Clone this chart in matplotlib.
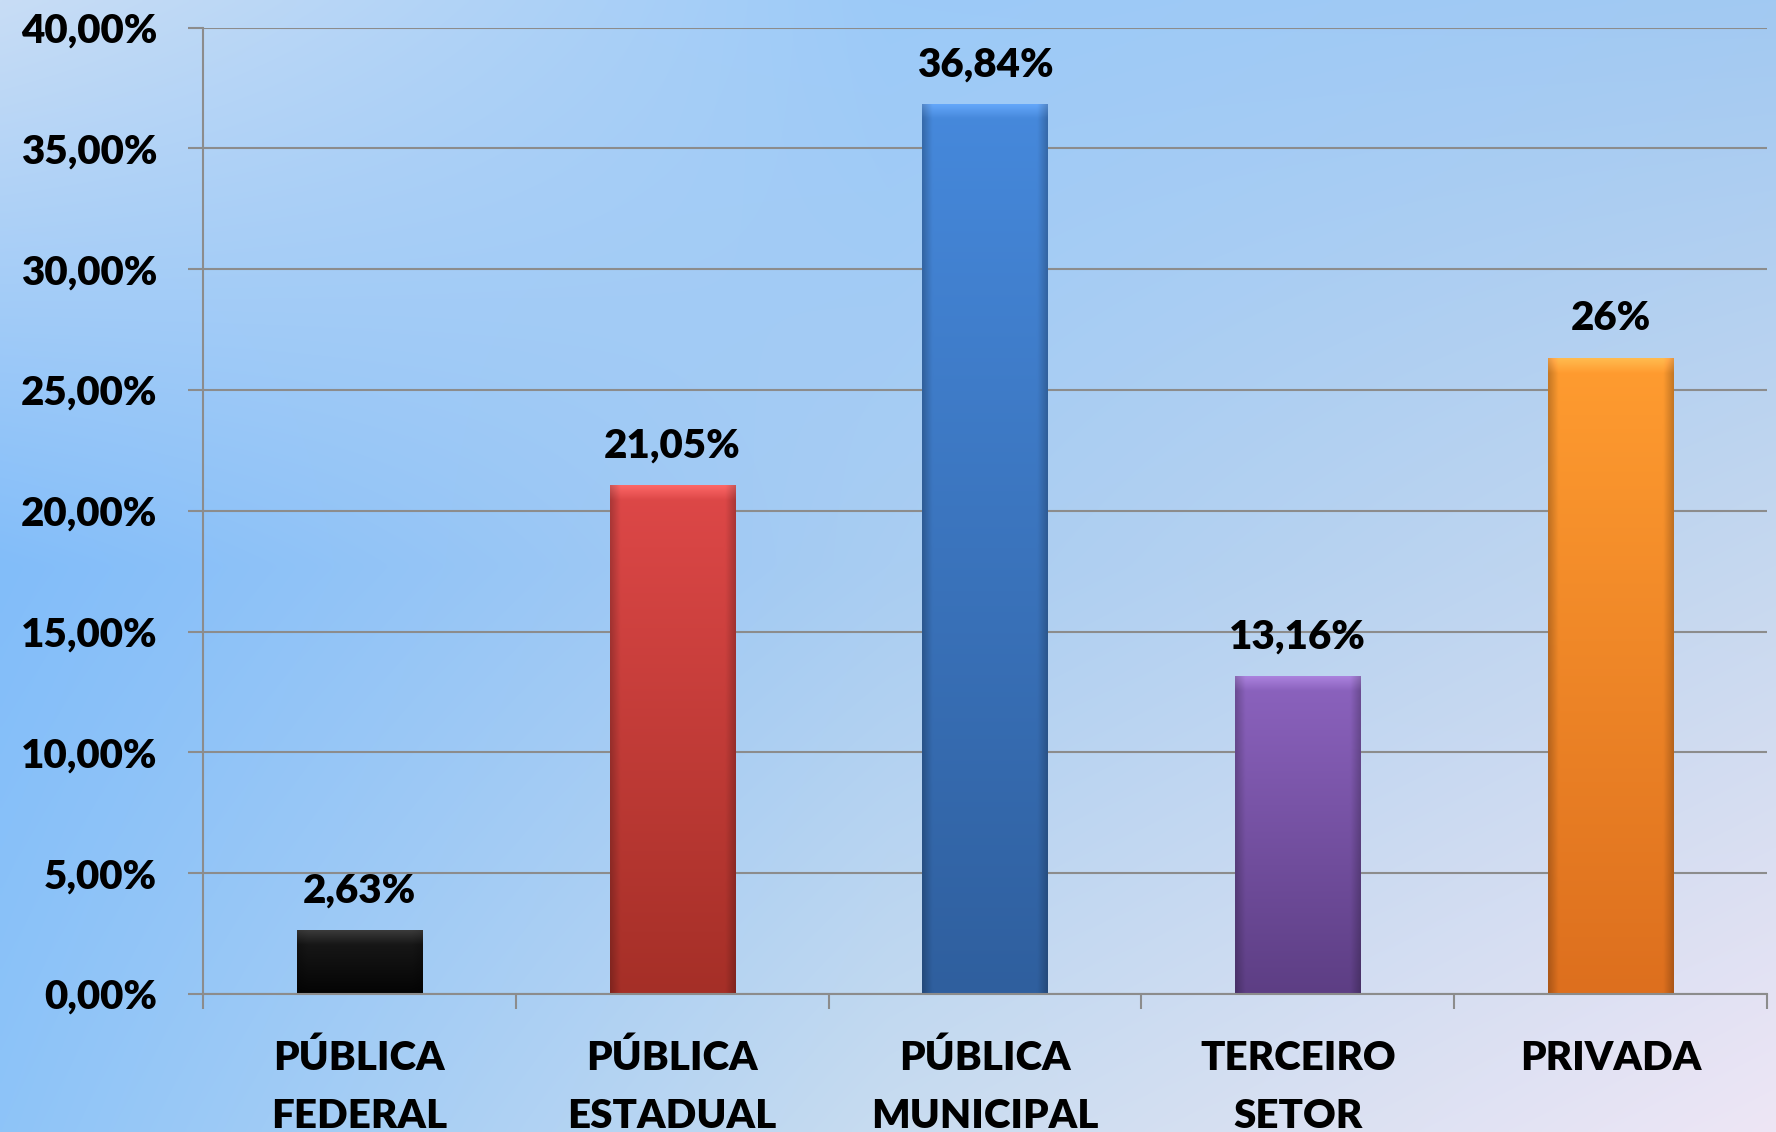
import matplotlib
matplotlib.use("Agg")
import matplotlib.pyplot as plt
import matplotlib.colors as mcolors
import numpy as np

# ── Data ──────────────────────────────────────────────────────────────────────
categories = ["PÚBLICA\nFEDERAL", "PÚBLICA\nESTADUAL", "PÚBLICA\nMUNICIPAL", "TERCEIRO\nSETOR", "PRIVADA"]
values = [2.63, 21.05, 36.84, 13.16, 26.32]
value_labels = ["2,63%", "21,05%", "36,84%", "13,16%", "26%"]
y_ticks = [0, 5, 10, 15, 20, 25, 30, 35, 40]

# ── Style ─────────────────────────────────────────────────────────────────────
BAR_TOP = ["#1c1c1c", "#de4848", "#4689dc", "#8c63bf", "#ff9c30"]
BAR_BOT = ["#040404", "#a52f27", "#2f5f9e", "#5d3e84", "#dd6f1e"]
GRID = "#8c8c8c"
FONT = "Lato"
FS = 29
WEIGHT = "heavy"

# background gradient grid (top row -> bottom row, left -> right)
BG_GRID = [
    ["#c8ddf5", "#9ccaf8", "#a2c9f2"],
    ["#82bdfa", "#a9cdf2", "#c6d8ef"],
    ["#8ec4f8", "#c8dcf0", "#eee6f5"],
]

fig = plt.figure(figsize=(17.76, 11.32), dpi=100)

# background
bg_ax = fig.add_axes([0, 0, 1, 1], zorder=-5)
grid = np.array([[mcolors.to_rgb(c) for c in row] for row in BG_GRID])
H, W = 300, 470
yy = np.linspace(0, 2, H)[:, None]
xx = np.linspace(0, 2, W)[None, :]
y0 = np.broadcast_to(np.clip(np.floor(yy).astype(int), 0, 1), (H, W))
x0 = np.broadcast_to(np.clip(np.floor(xx).astype(int), 0, 1), (H, W))
fy = (yy - y0)[..., None]
fx = (xx - x0)[..., None]
img = ((grid[y0, x0] * (1 - fx) + grid[y0, x0 + 1] * fx) * (1 - fy)
       + (grid[y0 + 1, x0] * (1 - fx) + grid[y0 + 1, x0 + 1] * fx) * fy)
bg_ax.imshow(img, aspect="auto", extent=[0, 1, 0, 1], interpolation="bilinear")
bg_ax.axis("off")

ax = fig.add_axes([0.1143, 0.1219, 0.9949 - 0.1143, 0.9757 - 0.1219])
ax.set_facecolor("none")

x = np.arange(len(values))
width = 0.40
bars = ax.bar(x, values, width=width, color=BAR_BOT, zorder=3, linewidth=0)

# bevelled gradient fill on each bar
for i, b in enumerate(bars):
    top = np.array(mcolors.to_rgb(BAR_TOP[i]))
    bot = np.array(mcolors.to_rgb(BAR_BOT[i]))
    n_rows = 400
    v = np.linspace(0, 1, n_rows)[:, None, None]
    u = np.linspace(0, 1, 80)[None, :, None]
    col = top * (1 - v) + bot * v
    edge = np.clip(1 - np.minimum(u, 1 - u) / 0.08, 0, 1)
    col = np.broadcast_to(col * (1 - 0.22 * edge), (n_rows, 80, 3)).copy()
    # soft light bevel along the top edge
    bevel_frac = 0.6 / max(values[i], 0.6)
    depth = np.linspace(0, 1, n_rows)[:, None, None] / bevel_frac
    glow = np.clip(1 - depth, 0, 1) * 0.12
    col = np.clip(col + glow, 0, 1)
    im = ax.imshow(col, extent=[b.get_x(), b.get_x() + width, 0, values[i]],
                   aspect="auto", zorder=4, interpolation="bilinear")
    im.set_clip_path(b)

for xi, val, lab in zip(x, values, value_labels):
    ax.annotate(lab, (xi, val), xytext=(0, 20), textcoords="offset points",
                ha="center", va="baseline", fontsize=FS, fontweight=WEIGHT,
                family=FONT, color="black", zorder=6)

ax.set_xlim(-0.5, len(values) - 0.5)
ax.set_ylim(0, 40)
ax.set_yticks(y_ticks)
ax.set_yticklabels([f"{t:.2f}".replace(".", ",") + "%" for t in y_ticks],
                   fontsize=FS, fontweight=WEIGHT, family=FONT)
ax.set_xticks(np.arange(len(values) + 1) - 0.5)
ax.set_xticklabels([])
ax.tick_params(axis="both", direction="out", length=11, width=1.5, color=GRID)
ax.tick_params(axis="y", pad=22)
ax.grid(True, axis="y", color=GRID, linewidth=1.5, zorder=1)
ax.set_axisbelow(True)
for side in ["top", "right"]:
    ax.spines[side].set_visible(False)
for side in ["left", "bottom"]:
    ax.spines[side].set_color(GRID)
    ax.spines[side].set_linewidth(1.5)
    ax.spines[side].set_zorder(5)

trans = ax.get_xaxis_transform()
for xi, cat in zip(x, categories):
    for j, line in enumerate(cat.split("\n")):
        ax.text(xi, -0.0786 - j * 0.060, line, transform=trans, ha="center",
                va="baseline", fontsize=FS, fontweight=WEIGHT, family=FONT,
                clip_on=False)

fig.savefig("out.png", dpi=100)
